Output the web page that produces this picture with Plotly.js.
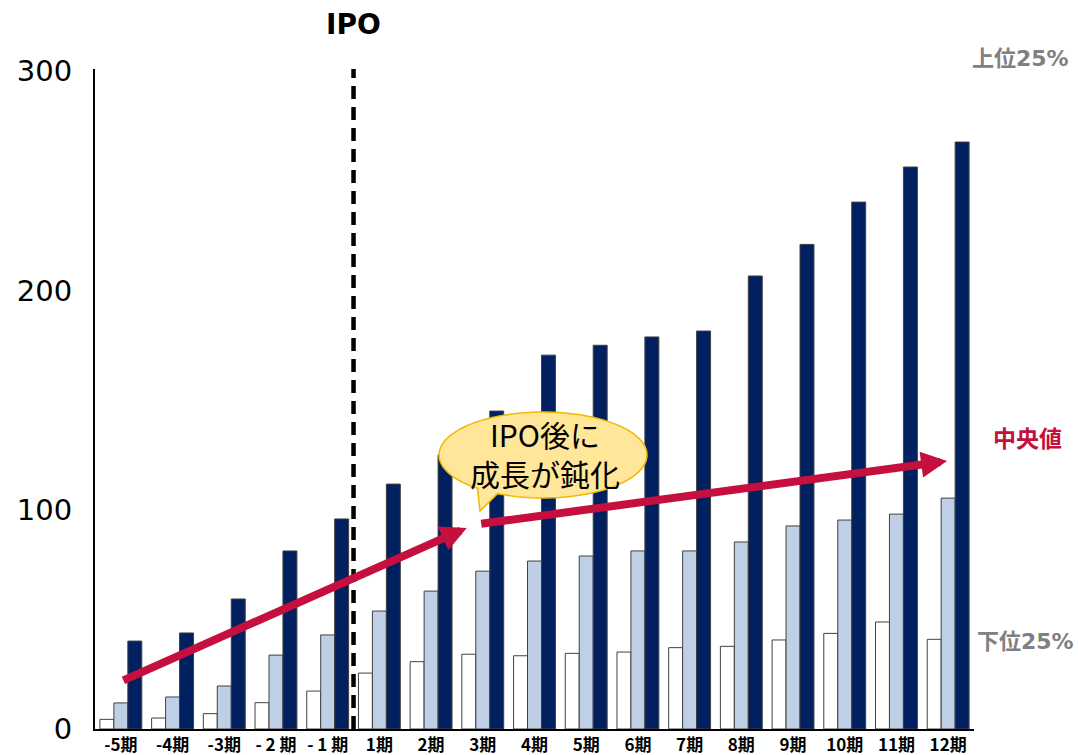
<!DOCTYPE html>
<html><head><meta charset="utf-8">
<script src="https://cdn.plot.ly/plotly-3.0.1.min.js"></script>
<style>html,body{margin:0;padding:0;background:#fff}</style>
</head><body>
<div id="chart" style="width:1078px;height:755px"></div>
<script>
const periods = ["-5期","-4期","-3期","- 2 期","- 1 期","1期","2期","3期","4期","5期","6期","7期","8期","9期","10期","11期","12期"];
const lower25 = [4.4, 5.0, 7.0, 12.0, 17.3, 25.5, 30.7, 34.1, 33.4, 34.5, 35.1, 37.1, 37.7, 40.6, 43.6, 48.8, 40.9];
const median  = [11.9, 14.6, 19.6, 33.7, 42.9, 53.8, 62.9, 72.0, 76.6, 78.9, 81.2, 81.2, 85.3, 92.6, 95.3, 98.0, 105.3];
const upper25 = [40.1, 43.8, 59.3, 81.2, 95.8, 111.7, 125.0, 145.0, 170.5, 175.0, 178.8, 181.5, 206.6, 221.0, 240.3, 256.3, 267.7];
// trend arrows: [tailX, tailY, tipX, tipY] in axis units (category index, value)
const arrowPre  = [0.02, 21.9, 6.69, 91.7];
const arrowPost = [6.94, 93.5, 15.98, 122.2];
const ipoIndex = 4.5;

const W = 1078, H = 755, ML = 95, MR = 104, MT = 69, MB = 26;
const PW = W - ML - MR, PH = H - MT - MB;
const px2p = (px) => (px - ML) / PW;
const py2p = (py) => (H - MB - py) / PH;

const outline = {color: '#404040', width: 1};
const traces = [
  {type: 'bar', name: '下位25%', x: periods, y: lower25, marker: {color: '#ffffff', line: outline}},
  {type: 'bar', name: '中央値', x: periods, y: median, marker: {color: '#BFD0E6', line: outline}},
  {type: 'bar', name: '上位25%', x: periods, y: upper25, marker: {color: '#002060', line: outline}}
];

// speech bubble (ellipse with tail), in pixel terms converted to paper
const cx = 543, cy = 455, ra = 104, rb = 43;
let pts = [];
const a0 = 116, a1 = 129 - 360;
const steps = 90;
for (let i = 0; i <= steps; i++) {
  const ang = (a0 + (a1 - a0) * i / steps) * Math.PI / 180;
  pts.push([cx + ra * Math.cos(ang), cy + rb * Math.sin(ang)]);
}
pts.push([480, 511]);
let path = pts.map((p, i) => (i === 0 ? 'M' : 'L') + px2p(p[0]).toFixed(5) + ',' + py2p(p[1]).toFixed(5)).join(' ') + ' Z';

const crimson = '#C50F3E';
const labFont = '"DejaVu Sans", "Noto Sans CJK JP", sans-serif';
const layout = {
  width: W, height: H,
  margin: {l: ML, r: MR, t: MT, b: MB, pad: 0},
  paper_bgcolor: '#ffffff', plot_bgcolor: '#ffffff',
  showlegend: false,
  barmode: 'group', bargap: 0.19, bargroupgap: 0,
  font: {family: '"DejaVu Sans", sans-serif', color: '#000'},
  xaxis: {
    type: 'category', range: [-0.5, 16.5], showgrid: false, zeroline: false,
    showline: true, linecolor: '#000', linewidth: 2, ticks: '',
    tickfont: {family: '"Noto Sans CJK JP", sans-serif', size: 17, weight: 'bold', color: '#000'},
    ticklabelstandoff: 0, fixedrange: true
  },
  yaxis: {
    range: [0, 301], showgrid: false, zeroline: false,
    showline: true, linecolor: '#000', linewidth: 2, ticks: '',
    tickvals: [0, 100, 200, 300],
    tickfont: {family: '"DejaVu Sans", sans-serif', size: 29, color: '#000'},
    ticklabelstandoff: 15, fixedrange: true
  },
  shapes: [
    {type: 'line', xref: 'x', yref: 'paper', x0: ipoIndex, x1: ipoIndex, y0: 0, y1: 1,
     line: {color: '#000', width: 4.5, dash: '13px,8px'}},
    {type: 'path', xref: 'paper', yref: 'paper', path: path,
     fillcolor: '#FFE699', line: {color: '#F2B800', width: 1.5}, layer: 'above'}
  ],
  annotations: [
    {xref: 'x', yref: 'y', axref: 'x', ayref: 'y', x: arrowPre[2], y: arrowPre[3], ax: arrowPre[0], ay: arrowPre[1],
     text: '', showarrow: true, arrowhead: 2, arrowsize: 0.65, arrowwidth: 8, arrowcolor: crimson},
    {xref: 'x', yref: 'y', axref: 'x', ayref: 'y', x: arrowPost[2], y: arrowPost[3], ax: arrowPost[0], ay: arrowPost[1],
     text: '', showarrow: true, arrowhead: 2, arrowsize: 0.65, arrowwidth: 8, arrowcolor: crimson},
    {xref: 'paper', yref: 'paper', x: px2p(cx + 2), y: py2p(cy - 1), text: 'IPO後に<br>成長が鈍化', showarrow: false,
     font: {family: '"Noto Sans CJK JP", sans-serif', size: 30, color: '#000'}, xanchor: 'center', yanchor: 'middle'},
    {xref: 'x', yref: 'paper', x: ipoIndex, y: py2p(24), text: '<b>IPO</b>', showarrow: false,
     font: {family: '"DejaVu Sans", sans-serif', size: 28, color: '#000'}, xanchor: 'center', yanchor: 'middle'},
    {xref: 'paper', yref: 'paper', x: px2p(1020), y: py2p(58), text: '<b>上位25%</b>', showarrow: false,
     font: {family: labFont, size: 22, color: '#808080'}, xanchor: 'center', yanchor: 'middle'},
    {xref: 'paper', yref: 'paper', x: px2p(1027), y: py2p(439), text: '<b>中央値</b>', showarrow: false,
     font: {family: labFont, size: 23, color: crimson}, xanchor: 'center', yanchor: 'middle'},
    {xref: 'paper', yref: 'paper', x: px2p(1025), y: py2p(641), text: '<b>下位25%</b>', showarrow: false,
     font: {family: labFont, size: 22, color: '#808080'}, xanchor: 'center', yanchor: 'middle'}
  ]
};
Plotly.newPlot('chart', traces, layout, {displayModeBar: false, staticPlot: true});
</script>
</body></html>
